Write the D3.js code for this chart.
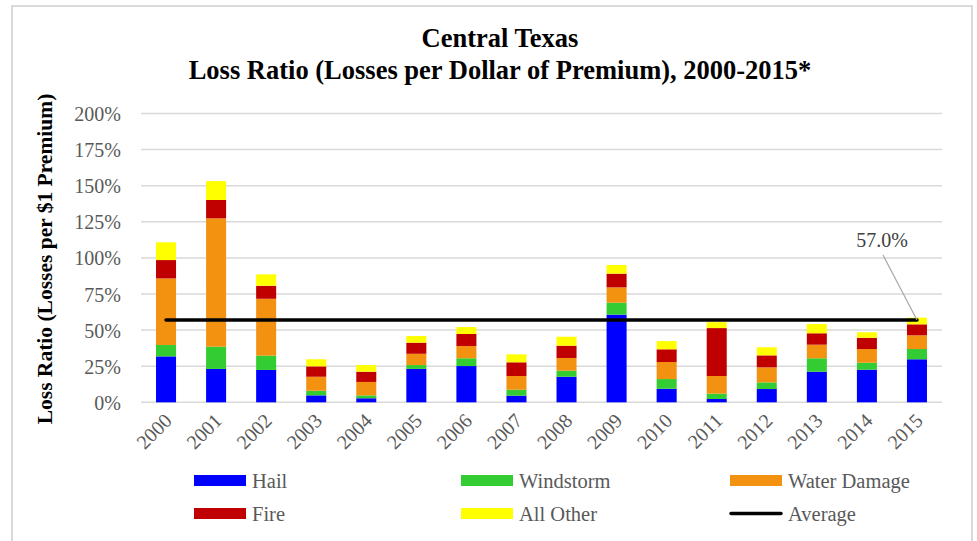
<!DOCTYPE html>
<html>
<head>
<meta charset="utf-8">
<script src="https://cdn.jsdelivr.net/npm/d3@7"></script>
<style>
  body { margin: 0; background: #fff; }
  svg text { font-family: "Liberation Serif", "Times New Roman", serif; }
</style>
</head>
<body>
<svg id="chart" width="977" height="541"></svg>
<script>
// values, in % of premium
const years = ["2000","2001","2002","2003","2004","2005","2006","2007","2008","2009","2010","2011","2012","2013","2014","2015"];
const hail =        [31.8, 23.1, 22.4, 4.8, 2.8, 23.1, 25.1, 4.6, 17.7, 60.7, 9.4, 2.3, 9.2, 21.2, 22.6, 29.8];
const windstorm =   [7.9, 15.4, 9.9, 3.2, 2.0, 2.7, 5.4, 4.1, 4.2, 8.3, 6.7, 3.7, 4.6, 9.3, 4.8, 7.1];
const waterDamage = [46.1, 88.9, 39.4, 9.7, 9.3, 7.8, 8.5, 9.5, 8.8, 10.6, 11.8, 12.2, 10.4, 9.4, 9.5, 9.5];
const fire =        [12.7, 12.7, 9.0, 7.2, 7.1, 7.7, 8.3, 9.5, 8.5, 9.5, 8.8, 33.2, 8.3, 7.9, 7.8, 7.6];
const allOther =    [12.3, 13.1, 7.9, 4.9, 4.6, 4.6, 4.8, 5.5, 6.2, 6.0, 5.7, 4.1, 5.6, 6.4, 3.8, 4.6];
const average = 57.0;
const yTicks = [0, 25, 50, 75, 100, 125, 150, 175, 200];

const seriesNames = ["Hail", "Windstorm", "Water Damage", "Fire", "All Other"];
const seriesKeys = ["hail", "windstorm", "waterDamage", "fire", "allOther"];
const colors = ["#0000ff", "#33cc33", "#f39111", "#c00000", "#ffff00"];

const rows = years.map((y, i) => ({
  year: y,
  hail: hail[i],
  windstorm: windstorm[i],
  waterDamage: waterDamage[i],
  fire: fire[i],
  allOther: allOther[i]
}));

const svg = d3.select("#chart");
const textGray = "#595959";

// outer frame
svg.append("rect")
  .attr("x", 12).attr("y", 6)
  .attr("width", 960).attr("height", 560)
  .attr("fill", "none")
  .attr("stroke", "#d9d9d9")
  .attr("stroke-width", 2);

const x = d3.scaleBand()
  .domain(years)
  .range([141, 942])
  .paddingInner(0.6)
  .paddingOuter(0.3);

const y = d3.scaleLinear()
  .domain([0, 200])
  .range([402.3, 113.5]);

// gridlines
svg.append("g")
  .selectAll("line")
  .data(yTicks)
  .enter()
  .append("line")
  .attr("x1", 141).attr("x2", 942)
  .attr("y1", d => y(d)).attr("y2", d => y(d))
  .attr("stroke", "#d9d9d9")
  .attr("stroke-width", 1.5);

// y tick labels
const yAxis = d3.axisLeft(y)
  .tickValues(yTicks)
  .tickFormat(d => d + "%")
  .tickSize(0)
  .tickPadding(0);

const yAxisG = svg.append("g")
  .attr("transform", "translate(121,0)")
  .call(yAxis);
yAxisG.attr("font-family", null);
yAxisG.select(".domain").remove();
yAxisG.selectAll("text")
  .attr("font-size", 20)
  .attr("fill", textGray)
  .attr("dy", "0.35em");

// x tick labels
const xAxis = d3.axisBottom(x).tickSize(0).tickPadding(0);
const xAxisG = svg.append("g")
  .attr("transform", "translate(0,402)")
  .call(xAxis);
xAxisG.attr("font-family", null);
xAxisG.select(".domain").remove();
xAxisG.selectAll("text")
  .attr("font-size", 20)
  .attr("fill", textGray)
  .attr("text-anchor", "end")
  .attr("dy", "0")
  .attr("y", 0)
  .attr("transform", "translate(7,20) rotate(-45)");

// stacked bars
const stack = d3.stack().keys(seriesKeys);
const stacked = stack(rows);

svg.append("g")
  .selectAll("g")
  .data(stacked)
  .enter()
  .append("g")
  .attr("fill", (d, i) => colors[i])
  .selectAll("rect")
  .data(d => d)
  .enter()
  .append("rect")
  .attr("x", d => x(d.data.year))
  .attr("y", d => y(d[1]))
  .attr("width", x.bandwidth())
  .attr("height", d => y(d[0]) - y(d[1]));

// average line
const avgX1 = x(years[0]) + x.bandwidth() / 2;
const avgX2 = x(years[years.length - 1]) + x.bandwidth() / 2;
svg.append("line")
  .attr("x1", avgX1).attr("x2", avgX2)
  .attr("y1", y(average)).attr("y2", y(average))
  .attr("stroke", "#000")
  .attr("stroke-width", 3.5)
  .attr("stroke-linecap", "round");

// average label + leader
svg.append("line")
  .attr("x1", avgX2 - 34).attr("y1", 255)
  .attr("x2", avgX2).attr("y2", y(average))
  .attr("stroke", "#a6a6a6")
  .attr("stroke-width", 1.2);
svg.append("text")
  .attr("x", avgX2 - 35).attr("y", 247)
  .attr("text-anchor", "middle")
  .attr("font-size", 20)
  .attr("fill", "#404040")
  .text(average.toFixed(1) + "%");

// titles
svg.append("text")
  .attr("x", 500).attr("y", 47)
  .attr("text-anchor", "middle")
  .attr("font-size", 26.5)
  .attr("font-weight", "bold")
  .attr("fill", "#000")
  .text("Central Texas");
svg.append("text")
  .attr("x", 500).attr("y", 79)
  .attr("text-anchor", "middle")
  .attr("font-size", 26.5)
  .attr("font-weight", "bold")
  .attr("fill", "#000")
  .text("Loss Ratio (Losses per Dollar of Premium), 2000-2015*");

svg.append("text")
  .attr("transform", "translate(52,259) rotate(-90)")
  .attr("text-anchor", "middle")
  .attr("font-size", 21.5)
  .attr("font-weight", "bold")
  .attr("fill", "#000")
  .text("Loss Ratio (Losses per $1 Premium)");

// legend
const legendItems = seriesNames.map((n, i) => ({ name: n, color: colors[i], line: false }));
legendItems.push({ name: "Average", color: "#000", line: true });
const legendCols = [194, 461, 730];
const legendRows = [480.5, 513.5];

const legend = svg.append("g")
  .selectAll("g")
  .data(legendItems)
  .enter()
  .append("g")
  .attr("transform", (d, i) => `translate(${legendCols[i % 3]},${legendRows[Math.floor(i / 3)]})`);

legend.each(function(d) {
  const g = d3.select(this);
  if (d.line) {
    g.append("line")
      .attr("x1", 1).attr("x2", 51)
      .attr("y1", 0).attr("y2", 0)
      .attr("stroke", d.color)
      .attr("stroke-width", 3.5)
      .attr("stroke-linecap", "round");
  } else {
    g.append("rect")
      .attr("x", 0).attr("y", -5.5)
      .attr("width", 52).attr("height", 11)
      .attr("fill", d.color);
  }
  g.append("text")
    .attr("x", 58).attr("y", 0)
    .attr("dy", "0.35em")
    .attr("font-size", 20.5)
    .attr("fill", textGray)
    .text(d.name);
});
</script>
</body>
</html>
